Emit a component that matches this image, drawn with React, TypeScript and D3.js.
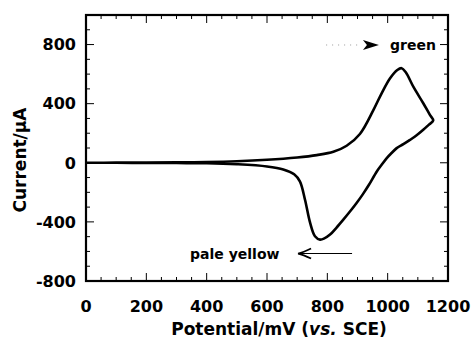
import React from "react";
import * as d3 from "d3";

// cyclic voltammogram, forward scan then reverse scan (mV, µA)
const forwardScan: [number, number][] = [
  [0, 0], [100, 1], [200, 2], [300, 3], [400, 5], [500, 10], [600, 20],
  [700, 36], [765, 52], [820, 74], [864, 115], [908, 195], [953, 358],
  [980, 470], [1008, 572], [1032, 628], [1046, 640], [1060, 612],
  [1085, 515], [1118, 403], [1140, 324], [1151, 286],
];
const reverseScan: [number, number][] = [
  [1151, 286], [1135, 255], [1118, 223], [1096, 186], [1074, 155],
  [1052, 126], [1030, 99], [1013, 66], [997, 32], [980, -14], [964, -59],
  [938, -149], [918, -212], [897, -272], [875, -330], [853, -385],
  [830, -440], [809, -486], [790, -512], [776, -520], [759, -497],
  [743, -407], [726, -250], [709, -126], [690, -78], [654, -45], [600, -25],
  [500, -10], [400, -3], [300, -2], [200, -1], [100, 0], [0, 0],
];
const xTickLabels = [0, 200, 400, 600, 800, 1000, 1200];
const yTickLabels = [-800, -400, 0, 400, 800];

const W = 475;
const H = 339;
const margin = { top: 15, right: 27, bottom: 58, left: 86 };
const font = "'DejaVu Sans', sans-serif";

export default function App() {
  const x = d3.scaleLinear().domain([0, 1200]).range([margin.left, W - margin.right]);
  const y = d3.scaleLinear().domain([-800, 1000]).range([H - margin.bottom, margin.top]);

  const line = d3
    .line<[number, number]>()
    .x((d) => x(d[0]))
    .y((d) => y(d[1]))
    .curve(d3.curveCatmullRom.alpha(0.5));

  const loop = forwardScan.concat(reverseScan.slice(1));

  const xMinor = d3.range(0, 1201, 50);
  const yMinor = d3.range(-800, 1001, 100);
  const x0 = x(0), x1 = x(1200), y0 = y(-800), y1 = y(1000);

  // annotation arrows in data units
  const gy = y(797);
  const gTip = x(971), gBack = x(918);
  const py = y(-614);
  const pTip = x(703), pTail = x(882);

  return (
    <svg width={W} height={H} style={{ position: "absolute", left: 0, top: 0, background: "#fff" }}>
      {/* ticks */}
      <g stroke="#000" strokeWidth={1}>
        {xMinor.map((v) => {
          const len = v % 200 === 0 ? 8 : 4;
          return (
            <g key={"x" + v}>
              <line x1={x(v)} x2={x(v)} y1={y0} y2={y0 - len} />
              <line x1={x(v)} x2={x(v)} y1={y1} y2={y1 + len} />
            </g>
          );
        })}
        {yMinor.map((v) => {
          const len = v % 400 === 0 ? 8 : 4;
          return (
            <g key={"y" + v}>
              <line x1={x0} x2={x0 + len} y1={y(v)} y2={y(v)} />
              <line x1={x1} x2={x1 - len} y1={y(v)} y2={y(v)} />
            </g>
          );
        })}
      </g>
      <rect x={x0} y={y1} width={x1 - x0} height={y0 - y1} fill="none" stroke="#000" strokeWidth={2.2} />

      {/* tick labels */}
      <g fontFamily={font} fontWeight="bold" fontSize={16} fill="#000">
        {xTickLabels.map((v) => (
          <text key={v} x={x(v)} y={y0 + 31} textAnchor="middle">{v}</text>
        ))}
        {yTickLabels.map((v) => (
          <text key={v} x={x0 - 10} y={y(v)} dy="0.36em" textAnchor="end">{v}</text>
        ))}
      </g>

      {/* axis titles */}
      <text x={(x0 + x1) / 2 + 12} y={335} textAnchor="middle" fontFamily={font} fontWeight="bold" fontSize={17}>
        Potential/mV (<tspan fontStyle="italic">vs.</tspan> SCE)
      </text>
      <text transform={`translate(26,${(y0 + y1) / 2 + 12}) rotate(-90)`} textAnchor="middle" fontFamily={font} fontWeight="bold" fontSize={17}>
        Current/µA
      </text>

      {/* CV curve */}
      <path d={line(loop) ?? ""} fill="none" stroke="#000" strokeWidth={2.6} strokeLinejoin="round" />

      {/* annotations */}
      <line x1={x(796)} x2={gBack - 2} y1={gy} y2={gy} stroke="#999" strokeWidth={1} strokeDasharray="1 5" />
      <path d={`M${gBack},${gy - 5} L${gTip},${gy} L${gBack},${gy + 5} L${gBack + 4},${gy} Z`} fill="#000" />
      <text x={x(1008)} y={y(763)} fontFamily={font} fontWeight="bold" fontSize={14}>green</text>

      <line x1={pTail} x2={pTip + 1} y1={py} y2={py} stroke="#000" strokeWidth={1} />
      <path d={`M${pTip + 13},${py - 5} Q${pTip + 5},${py - 1} ${pTip},${py} Q${pTip + 5},${py + 1} ${pTip + 13},${py + 5}`} fill="none" stroke="#000" strokeWidth={1.8} />
      <text x={x(345)} y={y(-648)} fontFamily={font} fontWeight="bold" fontSize={14}>pale yellow</text>
    </svg>
  );
}
